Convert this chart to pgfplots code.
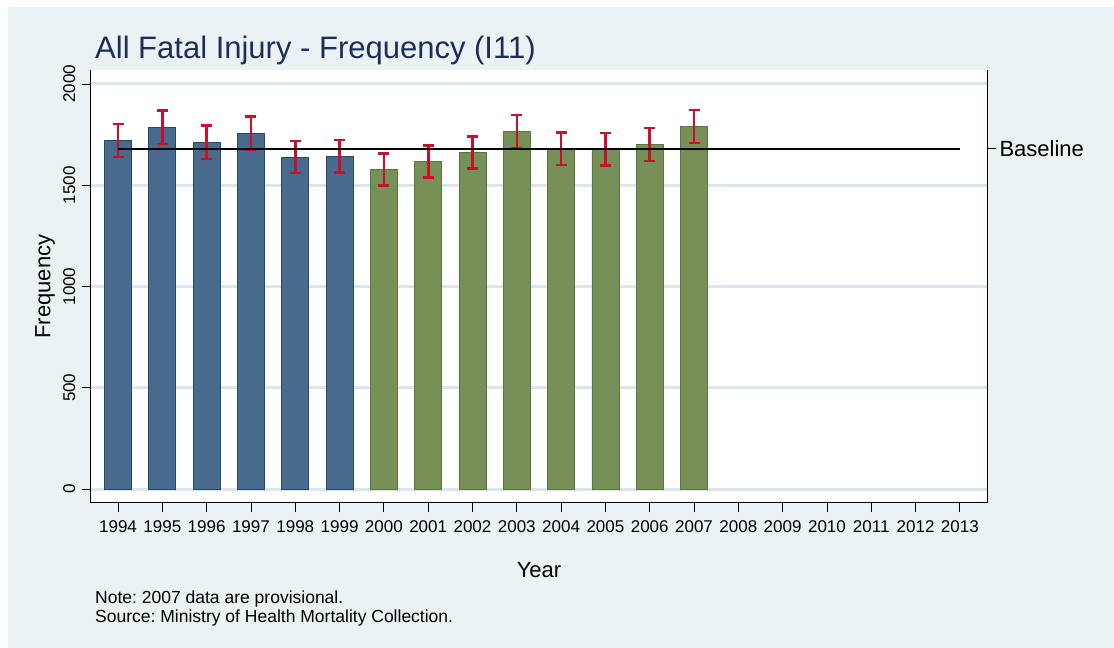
\documentclass[border=0pt]{standalone}
\usepackage{fontspec}
\setmainfont{Liberation Sans}
\usepackage{pgfplots}
\pgfplotsset{compat=1.18}
\frenchspacing

\definecolor{bgcol}{RGB}{234,242,243}
\definecolor{titlecol}{RGB}{30,45,90}
\definecolor{gridcol}{RGB}{218,230,236}
\definecolor{barblue}{RGB}{71,106,141}
\definecolor{edgeblue}{RGB}{34,74,110}
\definecolor{bargreen}{RGB}{119,144,88}
\definecolor{edgegreen}{RGB}{90,120,60}
\definecolor{errred}{RGB}{200,16,46}

\pgfplotsset{
  stataframe/.style={
    at={(91pt,145pt)}, anchor=south west,
    scale only axis, width=896pt, height=433pt,
    xmin=1993.39, xmax=2013.61, ymin=-69, ymax=2069,
    tick align=outside, major tick length=9pt,
    every tick/.style={black, line width=0.8pt},
    axis line style={black, line width=1pt},
    /pgf/number format/1000 sep={},
    /pgf/number format/assume math mode=true,
  }
}

\begin{document}
\begin{tikzpicture}
\useasboundingbox (0,0) rectangle (1114pt,648pt);
\fill[white] (0,0) rectangle (1114pt,648pt);
\fill[bgcol] (8pt,0pt) rectangle (1114pt,641pt);

\node[anchor=base west, inner sep=0pt, text=titlecol,
      font=\fontsize{31}{37}\selectfont] at (95pt,589pt)
  {All Fatal Injury - Frequency (I11)};

\begin{axis}[
  stataframe,
  axis background/.style={fill=white},
  axis x line*=bottom, axis y line*=left,
  xtick={1994,...,2013},
  ytick={0,500,1000,1500,2000},
  ymajorgrids=true,
  grid style={gridcol, line width=3pt},
  xticklabel style={font=\fontsize{17}{20}\selectfont},
  xticklabel shift=5pt,
  yticklabel style={font=\fontsize{17}{20}\selectfont, rotate=90, anchor=base},
  yticklabel shift=7pt,
  xlabel={Year}, ylabel={Frequency},
  xlabel style={font=\fontsize{22}{26}\selectfont, at={(axis description cs:0.5,-0.1732)}, anchor=base},
  ylabel style={font=\fontsize{22}{26}\selectfont, at={(axis description cs:-0.0513,0.5)}, anchor=center},
]
% 1994-1999
\addplot[ybar, bar width=27pt, bar shift=0pt, fill=barblue, draw=edgeblue, line width=0.8pt]
  coordinates {(1994,1721) (1995,1787) (1996,1713) (1997,1756) (1998,1639) (1999,1644)};
% 2000-2007
\addplot[ybar, bar width=27pt, bar shift=0pt, fill=bargreen, draw=edgegreen, line width=0.8pt]
  coordinates {(2000,1579) (2001,1617) (2002,1662) (2003,1765) (2004,1680)
               (2005,1677) (2006,1701) (2007,1790)};
% 95% intervals
\addplot[draw=none, mark=none,
  error bars/.cd, y dir=both, y explicit,
  error bar style={draw=errred, line width=2.6pt},
  error mark options={rotate=90, draw=errred, line width=2.6pt, mark size=5.5pt}]
  coordinates {
    (1994,1721) +- (0,82) (1995,1787) +- (0,83) (1996,1713) +- (0,83)
    (1997,1756) +- (0,83) (1998,1639) +- (0,79) (1999,1644) +- (0,80)
    (2000,1579) +- (0,79) (2001,1617) +- (0,80) (2002,1662) +- (0,80)
    (2003,1765) +- (0,81) (2004,1680) +- (0,80) (2005,1677) +- (0,80)
    (2006,1701) +- (0,81) (2007,1790) +- (0,81)
  };
% baseline
\addplot[black, line width=2pt] coordinates {(1994,1680) (2013,1680)};
\end{axis}

\begin{axis}[
  stataframe,
  axis x line=none, axis y line*=right,
  ytick={1680}, yticklabels={Baseline},
  yticklabel style={font=\fontsize{22}{26}\selectfont, anchor=west},
]
\end{axis}

\node[anchor=base west, inner sep=0pt, font=\fontsize{17.5}{20}\selectfont] at (95pt,44pt)
  {Note: 2007 data are provisional.};
\node[anchor=base west, inner sep=0pt, font=\fontsize{17.5}{20}\selectfont] at (95pt,25pt)
  {Source: Ministry of Health Mortality Collection.};
\end{tikzpicture}
\end{document}
